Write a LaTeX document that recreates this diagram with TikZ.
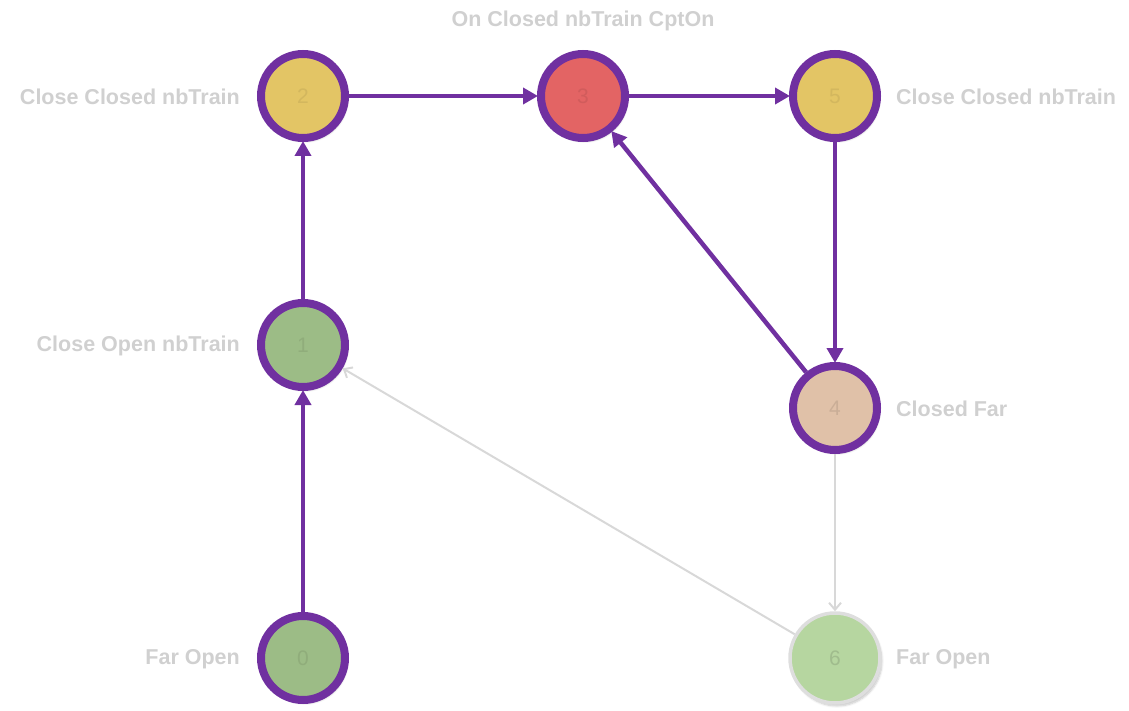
\documentclass[tikz,border=0pt]{standalone}
\usepackage{fontspec}
\setmainfont{Liberation Sans}
\usetikzlibrary{arrows.meta,shadows.blur}

\definecolor{edgepurple}{RGB}{112,48,160}
\definecolor{fadedgray}{RGB}{216,216,216}
\definecolor{labelgray}{RGB}{208,208,208}
\definecolor{fillgreen}{RGB}{156,188,134}
\definecolor{fillyellow}{RGB}{227,197,101}
\definecolor{fillred}{RGB}{227,100,100}
\definecolor{fillpeach}{RGB}{224,193,168}
\definecolor{filllight}{RGB}{182,214,160}
\definecolor{ringgray}{RGB}{222,222,222}

\tikzset{
  state/.style={circle, draw=edgepurple, line width=8pt, minimum size=84pt,
    inner sep=0pt, font=\fontsize{21}{21}\selectfont,
    blur shadow={shadow xshift=2pt, shadow yshift=-3pt,
      shadow blur steps=6, shadow opacity=30}},
  idle/.style={circle, draw=ringgray, line width=3.5pt, minimum size=90pt,
    inner sep=0pt, font=\fontsize{21}{21}\selectfont,
    blur shadow={shadow xshift=2pt, shadow yshift=-3pt,
      shadow blur steps=6, shadow opacity=22}},
  caption/.style={text=labelgray, font=\bfseries\fontsize{21.5}{22}\selectfont, inner sep=0pt},
  active/.style={draw=edgepurple, line width=4.5pt,
    -{Triangle[length=15pt,width=16pt]}, shorten >=-1pt},
  faded/.style={draw=fadedgray, line width=2pt,
    -{Straight Barb[length=7pt,width=12pt,line width=2pt]}}
}

\begin{document}
\begin{tikzpicture}[x=1pt,y=-1pt]
  \useasboundingbox (0,0) rectangle (1129,711);

  % states
  \node[state, fill=fillgreen, text=fillgreen!92!black]  (s0) at (303,658) {0};
  \node[state, fill=fillgreen, text=fillgreen!92!black]  (s1) at (303,345) {1};
  \node[state, fill=fillyellow, text=fillyellow!93!black] (s2) at (303,96) {2};
  \node[state, fill=fillred, text=fillred!92!black]       (s3) at (583,96) {3};
  \node[state, fill=fillyellow, text=fillyellow!93!black] (s5) at (835,96) {5};
  \node[state, fill=fillpeach, text=fillpeach!90!black]   (s4) at (835,408) {4};
  \node[idle, fill=filllight, text=filllight!88!black]    (s6) at (835,658) {6};

  % state captions
  \node[caption, anchor=east] (c0) at (240,659) {Far Open};
  \node[caption, anchor=east] (c1) at (240,346) {Close Open nbTrain};
  \node[caption, anchor=east] (c2) at (240,97)  {Close Closed nbTrain};
  \node[caption] (c3) at (583,21) {On Closed nbTrain CptOn};
  \node[caption, anchor=west] (c5) at (896,97)  {Close Closed nbTrain};
  \node[caption, anchor=west] (c4) at (896,409) {Closed Far};
  \node[caption, anchor=west] (c6) at (896,659) {Far Open};

  % transitions not taken
  \draw[faded] (s4) -- (s6);
  \draw[faded] (s6) -- (s1);

  % transitions taken
  \draw[active] (s0) -- (s1);
  \draw[active] (s1) -- (s2);
  \draw[active] (s2) -- (s3);
  \draw[active] (s3) -- (s5);
  \draw[active] (s5) -- (s4);
  \draw[active] (s4) -- (s3);
\end{tikzpicture}
\end{document}
